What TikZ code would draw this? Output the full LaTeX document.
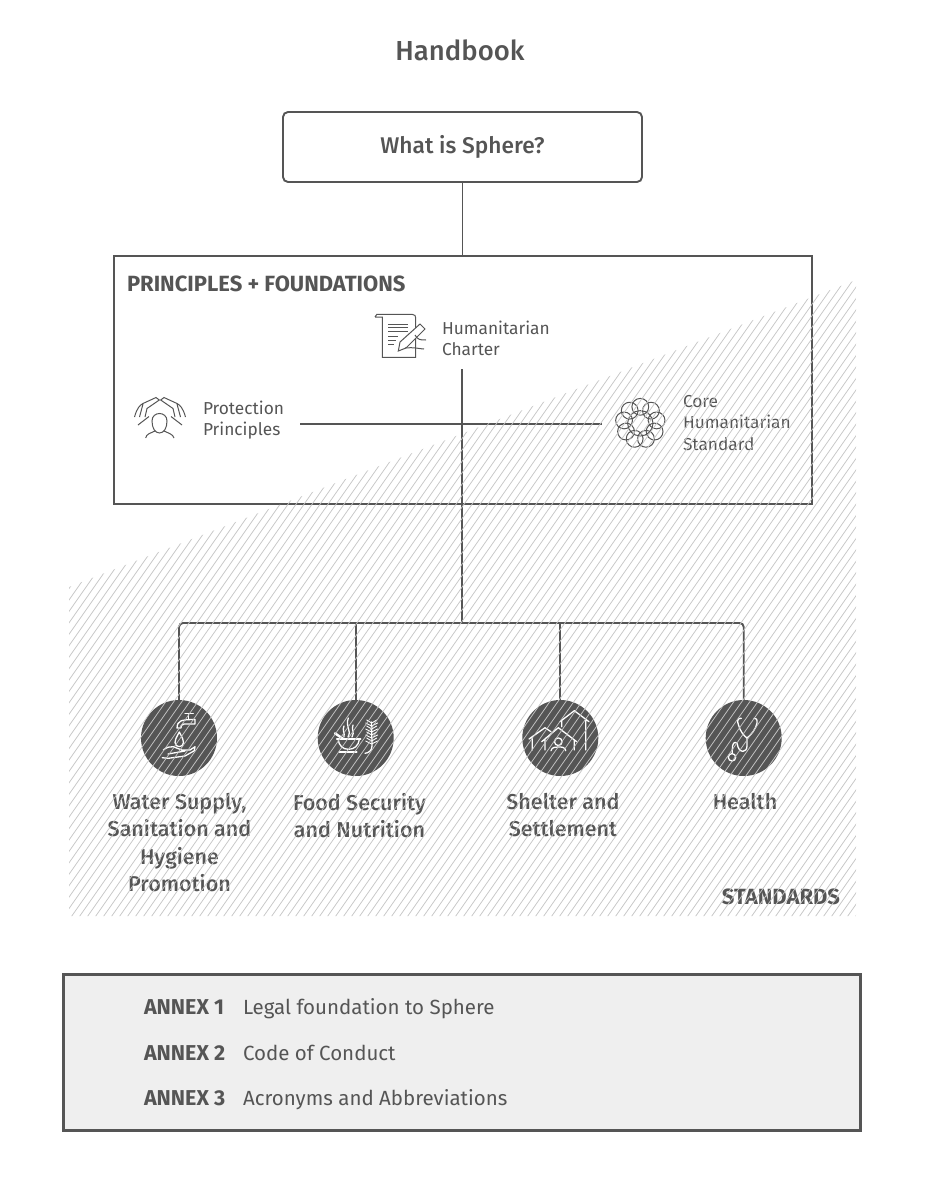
\documentclass[tikz,border=0pt]{standalone}
\usepackage{fontspec}
\setmainfont{Fira Sans}
\newfontfamily\mediumfont{Fira Sans Medium}
\usetikzlibrary{positioning, calc}
\definecolor{ink}{HTML}{555555}
\definecolor{hatch}{HTML}{C6C6C6}
\definecolor{annexgrey}{HTML}{EFEFEF}

\tikzset{
  every node/.style={text=ink, inner sep=0pt, outer sep=0pt},
  smalltext/.style={font=\fontsize{17.3}{21.5}\selectfont, align=left},
  standardtext/.style={font=\mediumfont\fontsize{21.5}{27.5}\selectfont, align=center},
  annexhead/.style={font=\fontsize{21.5}{24}\selectfont\bfseries},
  annextext/.style={font=\fontsize{20.5}{24}\selectfont},
  link/.style={draw=ink, line width=1.9pt},
  standard/.style={circle, fill=ink, minimum size=76pt},
  pale/.style={draw=ink, line width=1pt},
  whiteline/.style={draw=white, line width=1.3pt, line join=round, line cap=round},
}

\begin{document}
\begin{tikzpicture}[x=1pt, y=-1pt]
\useasboundingbox (0,0) rectangle (926,1201);

\node (handbook) at (460,50) {\mediumfont\fontsize{27.5}{30}\selectfont Handbook};
\node (whatIs) [rectangle, draw=ink, line width=1.9pt, rounded corners=5pt, minimum width=359pt, minimum height=70pt] at (462.5,147) {\mediumfont\fontsize{22.7}{24}\selectfont What is Sphere?};
\node (principles) [rectangle, draw=ink, line width=2pt, minimum width=698pt, minimum height=248pt, below=74pt of whatIs] {};
\node (principlesTitle) [anchor=west, font=\fontsize{22}{24}\selectfont\bfseries] at (127,284) {PRINCIPLES + FOUNDATIONS};

\node (charter) [smalltext, anchor=west] at (442,338.5) {Humanitarian\\Charter};
\node (protection) [smalltext, anchor=west] at (203,420) {Protection\\Principles};
\node (core) [smalltext, anchor=west] at (683,423) {Core\\Humanitarian\\Standard};
\coordinate (charterFoot) at (462,369);
\coordinate (protectionEnd) at (300,424);
\coordinate (coreEnd) at (602,424);
\coordinate (branch) at (462,623);

% standards
\node (water) [standard] at (179,738) {};
\node (food) [standard, right=100.7pt of water] {};
\node (shelter) [standard, right=128.6pt of food] {};
\node (health) [standard, right=107.4pt of shelter] {};
\node (waterText) [standardtext, anchor=north] at (179.5,793) {Water Supply,\\Sanitation and\\Hygiene\\Promotion};
\node (foodText) [standardtext, anchor=north] at (359.5,793) {Food Security\\and Nutrition};
\node (shelterText) [standardtext, anchor=north] at (563,793) {Shelter and\\Settlement};
\node (healthText) [standardtext, anchor=north] at (745,793) {Health};
\node (standardsTitle) [anchor=east, font=\fontsize{22}{24}\selectfont\bfseries] at (840,897) {STANDARDS};

% annexes
\node (annexes) [rectangle, draw=ink, fill=annexgrey, line width=3pt, minimum width=797pt, minimum height=156pt] at (461.5,1052) {};
\node (annexOne) [annexhead, anchor=base west] at (144,1014) {ANNEX 1};
\node (annexTwo) [annexhead, anchor=base west] at (144,1060) {ANNEX 2};
\node (annexThree) [annexhead, anchor=base west] at (144,1105) {ANNEX 3};
\node (legal) [annextext, anchor=base west] at (243,1014) {Legal foundation to Sphere};
\node (conduct) [annextext, anchor=base west] at (243,1060) {Code of Conduct};
\node (acronyms) [annextext, anchor=base west] at (243,1105) {Acronyms and Abbreviations};

\draw[link] (whatIs.south) -- (whatIs.south |- principles.north);
\draw[link] (charterFoot) -- (branch);
\draw[link] (protectionEnd) -- (coreEnd);
\draw[link, rounded corners=4pt] (water.north) |- (branch) -| (health.north);
\draw[link] (food.north) -- (food.north |- branch);
\draw[link] (shelter.north) -- (shelter.north |- branch);

% protection icon
\foreach \side in {1,-1} {
  \begin{scope}[xshift=160pt, xscale=\side]
    \draw[pale] (-25.5,417) .. controls (-23,408) and (-20,405) .. (-17,403.5) -- (-4,397.5) -- (-0.7,400) -- (-13,408.5) -- (-15,417) (-22,425) -- (-11,416.5) (-17,404) -- (-20.5,417);
  \end{scope}
}
\draw[pale] (152,421) .. controls (152,411) and (167,411) .. (167,421) .. controls (167,428) and (164,433) .. (159.5,433) .. controls (155,433) and (152,428) .. (152,421) -- cycle;
\draw[pale] (145.7,438) .. controls (146,434) and (151,433) .. (155,431) (174,438) .. controls (173,434) and (168,433) .. (164,431);

% charter icon
\draw[pale] (375,317) .. controls (375,314) and (378,314) .. (380,314.3) -- (412,314.3) .. controls (415,314.3) and (415.7,316) .. (415.7,318) -- (415.7,357.3) -- (382.3,357.3) -- (382.3,317) -- (375,317);
\foreach \ly/\lx in {324/408, 327.7/408, 331/408, 336/398, 340/396, 344/394} {
  \draw[pale] (388.3,\ly) -- (\lx,\ly);
}
\draw[pale, fill=white] (398.3,351) -- (400,342) -- (420,324) -- (425,329) -- (406,348) -- cycle;
\draw[pale] (415,335) .. controls (418,340) and (420,340) .. (426,340) (405,348) .. controls (415,347) and (420,349) .. (424,349);

% core icon
\draw[pale] (640.3,423.3) circle (12.7pt);
\foreach \ca in {10,50,...,330} {
  \draw[pale] ($(640.3,423.3)+(\ca:16.5pt)$) circle (8.4pt);
}

% water icon
\draw[whiteline] (185,713.3) -- (193.3,713.3) (188.3,714) -- (188.3,719.5);
\draw[whiteline] (177,728) .. controls (177.5,721) and (180,719.5) .. (195,719.5) -- (195,724) -- (184,724) .. controls (181,724.5) and (181,726) .. (181,728) -- cycle;
\draw[whiteline] (179.3,732) .. controls (176,738) and (175,740) .. (175,742.5) .. controls (175,748) and (183.5,748) .. (183.5,742.5) .. controls (183.5,740) and (182.5,738) .. (179.3,732) -- cycle;
\draw[whiteline] (163.3,750) .. controls (167,747) and (170,746.5) .. (173.3,746.7) -- (181.7,750) -- (190,750) -- (195,746.7) -- (194.3,750.7) -- (185,756) -- (168.3,758.3) -- (162.3,757.7) (168,754) -- (185,751);

% food icon
\draw[whiteline] (336.7,739) -- (360.7,739);
\draw[whiteline] (338,739) .. controls (339,746) and (343,749.3) .. (348.5,749.3) .. controls (354,749.3) and (358.5,746) .. (359.5,739);
\draw[whiteline, line width=1.6pt] (339.3,752) -- (356.7,752);
\draw[whiteline, line width=2.4pt] (335,733.3) -- (343.3,739);
\draw[whiteline] (348.3,718) .. controls (345,727) and (352,730) .. (348,737) (353,725) .. controls (351,730) and (355,732) .. (352,737) (344,726) .. controls (342,730) and (345,733) .. (344,737);
\draw[whiteline] (371.5,722) -- (372,746) .. controls (372,751) and (368,753) .. (365,753.3);
\foreach \wy in {723,729,735,741} {
  \draw[whiteline, line width=0.9pt] (371.7,\wy) -- ++(-5,-3) (371.7,\wy) -- ++(5,-3) (371.7,\wy+3) -- ++(-6,-3) (371.7,\wy+3) -- ++(6,-3);
}

% shelter icon
\draw[whiteline] (560,721.7) -- (574.3,710.7) -- (589,721.7) (585.7,719.3) -- (585.7,750) (561.7,720.5) -- (561.7,726.7);
\draw[whiteline] (541.7,741.7) -- (558.3,727.7) -- (576.7,741.7) (545,739) -- (545,750) (574.3,739.5) -- (574.3,750);
\draw[whiteline] (529,739) -- (545,727.7) -- (551,731.7) (532.3,736.7) -- (532.3,750);
\draw[whiteline] (558.3,741.7) circle (3.8pt);
\draw[whiteline] (551,750.7) .. controls (552,747) and (555,747) .. (558.3,747) .. controls (562,747) and (565,747) .. (565.7,750.7);

% health icon
\draw[whiteline] (741.3,718.3) -- (739,718.5) .. controls (737,719) and (737.5,722) .. (738.5,725) .. controls (740,731) and (744,736) .. (747,738) .. controls (751,735) and (756,729) .. (757,723) .. controls (757.5,719) and (756,718) .. (754,718.3);
\draw[whiteline] (747,738) -- (747,746) .. controls (747,753) and (739,753) .. (738,747) .. controls (738,741) and (733,741) .. (732.5,746) -- (732.2,753);
\draw[whiteline] (732,757.3) circle (3.7pt);

% hatching on top of everything
\begin{scope}
  \clip (69,587) -- (856,280) -- (856,916) -- (69,916) -- cycle;
  \foreach \hx in {-320,-312,...,1000} {
    \draw[hatch, line width=0.75pt] (\hx,950) -- ++(490,-700);
  }
\end{scope}
\end{tikzpicture}
\end{document}
